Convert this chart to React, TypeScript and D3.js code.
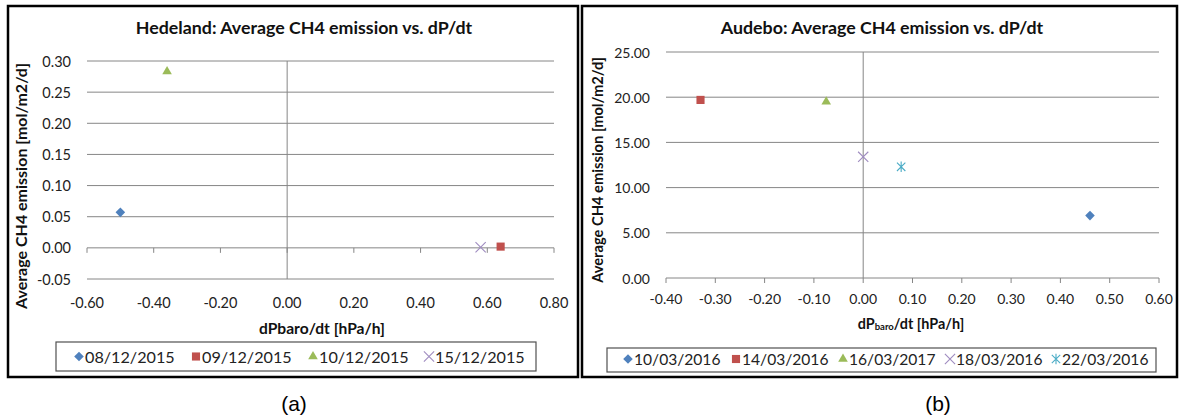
import React from 'react';
import * as d3 from 'd3';

// Hedeland campaign: mean CH4 flux against barometric pressure tendency
const hedelandDates = ['08/12/2015', '09/12/2015', '10/12/2015', '15/12/2015'];
const hedelandRate = [-0.5, 0.64, -0.36, 0.58];
const hedelandFlux = [0.057, 0.002, 0.283, 0.001];
const hedelandXTicks = [-0.6, -0.4, -0.2, 0, 0.2, 0.4, 0.6, 0.8];
const hedelandYTicks = [-0.05, 0, 0.05, 0.1, 0.15, 0.2, 0.25, 0.3];

// Audebo campaign
const audeboDates = ['10/03/2016', '14/03/2016', '16/03/2017', '18/03/2016', '22/03/2016'];
const audeboRate = [0.46, -0.33, -0.075, 0.0, 0.077];
const audeboFlux = [6.9, 19.7, 19.5, 13.4, 12.3];
const audeboXTicks = [-0.4, -0.3, -0.2, -0.1, 0, 0.1, 0.2, 0.3, 0.4, 0.5, 0.6];
const audeboYTicks = [0, 5, 10, 15, 20, 25];

const seriesColors = ['#4F81BD', '#C0504D', '#9BBB59', '#9F8CC0', '#4BACC6'];
const seriesMarkers = ['diamond', 'square', 'triangle', 'x', 'star'];

const FONT = 'Lato, "Open Sans", sans-serif';
const GRID = '#868686';
const fmt2 = d3.formatLocale({ decimal: '.', thousands: ',', grouping: [3], currency: ['', ''], minus: '-' }).format('.2f');

function Marker({ kind, color, x, y }: { kind: string; color: string; x: number; y: number }) {
  const t = `translate(${x},${y})`;
  if (kind === 'diamond') {
    return <path transform={`${t} rotate(45)`} d={d3.symbol(d3.symbolSquare, 46)()!} fill={color} />;
  }
  if (kind === 'square') {
    return <path transform={t} d={d3.symbol(d3.symbolSquare, 66)()!} fill={color} />;
  }
  if (kind === 'triangle') {
    return <path transform={t} d={d3.symbol(d3.symbolTriangle, 40)()!} fill={color} />;
  }
  if (kind === 'x') {
    return <path transform={t} d={d3.symbol(d3.symbolX, 70)()!} fill="none" stroke={color} strokeWidth={1.1} />;
  }
  // star: an X crossed by a vertical stroke
  const r = 4.2;
  const d = `M${-r},${-r}L${r},${r}M${-r},${r}L${r},${-r}M0,${-r - 1}L0,${r + 1}`;
  return <path transform={t} d={d} fill="none" stroke={color} strokeWidth={1.1} />;
}

type PanelCfg = {
  box: [number, number, number, number];
  plot: { left: number; right: number; top: number; bottom: number };
  xDomain: [number, number];
  yDomain: [number, number];
  xTicks: number[];
  yTicks: number[];
  xs: number[];
  ys: number[];
  dates: string[];
  title: string;
  titleX: number;
  tickSize: number;
  yTitleX: number;
  yTitleY: number;
  yTitleSize: number;
  yLabelRight: number;
  xLabelY: number;
  xTitle: React.ReactNode;
  xTitleX: number;
  xTitleY: number;
  xTitleSize: number;
  legend: { x0: number; x1: number; y0: number; y1: number; textY: number; size: number; items: number[] };
  caption: string;
  captionX: number;
};

function Panel({ c }: { c: PanelCfg }) {
  const x = d3.scaleLinear().domain(c.xDomain).range([c.plot.left, c.plot.right]);
  const y = d3.scaleLinear().domain(c.yDomain).range([c.plot.bottom, c.plot.top]);
  const [bx0, by0, bx1, by1] = c.box;
  const lg = c.legend;
  return (
    <g>
      <rect x={bx0} y={by0} width={bx1 - bx0} height={by1 - by0} fill="#fff" stroke="#000" strokeWidth={2.5} />
      <text x={c.titleX} y={27} textAnchor="middle" dominantBaseline="central" fontFamily={FONT} fontWeight={700} fontSize={17.8} fill="#111">
        {c.title}
      </text>
      {c.yTicks.map((v) => (
        <g key={`gy${v}`}>
          <line x1={c.plot.left} x2={c.plot.right} y1={y(v)} y2={y(v)} stroke={GRID} strokeWidth={1} />
          <text x={c.yLabelRight} y={y(v)} textAnchor="end" dominantBaseline="central" fontFamily={FONT} fontSize={c.tickSize} fill="#222">
            {fmt2(v)}
          </text>
        </g>
      ))}
      <line x1={x(0)} x2={x(0)} y1={c.plot.top} y2={c.plot.bottom} stroke={GRID} strokeWidth={1} />
      {c.xTicks.map((v) => (
        <g key={`gx${v}`}>
          <line x1={x(v)} x2={x(v)} y1={y(0)} y2={y(0) + 5} stroke={GRID} strokeWidth={1} />
          <text x={x(v)} y={c.xLabelY} textAnchor="middle" dominantBaseline="central" fontFamily={FONT} fontSize={c.tickSize} fill="#222">
            {fmt2(v)}
          </text>
        </g>
      ))}
      <text
        transform={`translate(${c.yTitleX},${c.yTitleY}) rotate(-90)`}
        textAnchor="middle"
        dominantBaseline="central"
        fontFamily={FONT}
        fontWeight={700}
        fontSize={c.yTitleSize}
        fill="#111"
      >
        Average CH4 emission [mol/m2/d]
      </text>
      <text x={c.xTitleX} y={c.xTitleY} textAnchor="middle" dominantBaseline="central" fontFamily={FONT} fontWeight={700} fontSize={c.xTitleSize} fill="#111">
        {c.xTitle}
      </text>
      {c.xs.map((v, i) => (
        <Marker key={`m${i}`} kind={seriesMarkers[i]} color={seriesColors[i]} x={x(v)} y={y(c.ys[i])} />
      ))}
      <rect x={lg.x0} y={lg.y0} width={lg.x1 - lg.x0} height={lg.y1 - lg.y0} fill="#fff" stroke="#505050" strokeWidth={1.2} />
      {c.dates.map((d, i) => (
        <g key={`l${i}`}>
          <Marker kind={seriesMarkers[i]} color={seriesColors[i]} x={lg.items[i]} y={lg.textY} />
          <text x={lg.items[i] + 6} y={lg.textY} dominantBaseline="central" fontFamily={FONT} fontSize={lg.size} fill="#222">
            {d}
          </text>
        </g>
      ))}
      <text x={c.captionX} y={403} textAnchor="middle" dominantBaseline="central" fontFamily='"Liberation Sans", Arial, sans-serif' fontSize={21} fill="#000">
        {c.caption}
      </text>
    </g>
  );
}

const hedeland: PanelCfg = {
  box: [8, 6, 578, 377],
  plot: { left: 87, right: 554, top: 61, bottom: 279 },
  xDomain: [-0.6, 0.8],
  yDomain: [-0.05, 0.3],
  xTicks: hedelandXTicks,
  yTicks: hedelandYTicks,
  xs: hedelandRate,
  ys: hedelandFlux,
  dates: hedelandDates,
  title: 'Hedeland: Average CH4 emission vs. dP/dt',
  titleX: 304,
  tickSize: 14.5,
  yTitleX: 20.5,
  yTitleY: 186,
  yTitleSize: 16,
  yLabelRight: 71,
  xLabelY: 302,
  xTitle: 'dPbaro/dt [hPa/h]',
  xTitleX: 322,
  xTitleY: 328,
  xTitleSize: 15.6,
  legend: { x0: 56, x1: 536, y0: 342, y1: 371, textY: 356.5, size: 16.2, items: [79, 196, 313, 429] },
  caption: '(a)',
  captionX: 294,
};

const audebo: PanelCfg = {
  box: [582, 6, 1177, 377],
  plot: { left: 666, right: 1159, top: 52, bottom: 278 },
  xDomain: [-0.4, 0.6],
  yDomain: [0, 25],
  xTicks: audeboXTicks,
  yTicks: audeboYTicks,
  xs: audeboRate,
  ys: audeboFlux,
  dates: audeboDates,
  title: 'Audebo: Average CH4 emission vs. dP/dt',
  titleX: 882,
  tickSize: 14,
  yTitleX: 597,
  yTitleY: 170,
  yTitleSize: 14.7,
  yLabelRight: 650,
  xLabelY: 298.5,
  xTitle: (
    <>
      dP<tspan fontSize={9.5} dy={3}>baro</tspan>
      <tspan dy={-3}>/dt [hPa/h]</tspan>
    </>
  ),
  xTitleX: 911,
  xTitleY: 323,
  xTitleSize: 14.4,
  legend: { x0: 607, x1: 1156, y0: 348, y1: 372, textY: 359, size: 15.6, items: [628, 736, 843, 950, 1056] },
  caption: '(b)',
  captionX: 938,
};

export default function App() {
  return (
    <svg width={1180} height={419} style={{ position: 'absolute', left: 0, top: 0, background: '#fff' }}>
      <rect width={1180} height={419} fill="#fff" />
      <Panel c={hedeland} />
      <Panel c={audebo} />
    </svg>
  );
}
